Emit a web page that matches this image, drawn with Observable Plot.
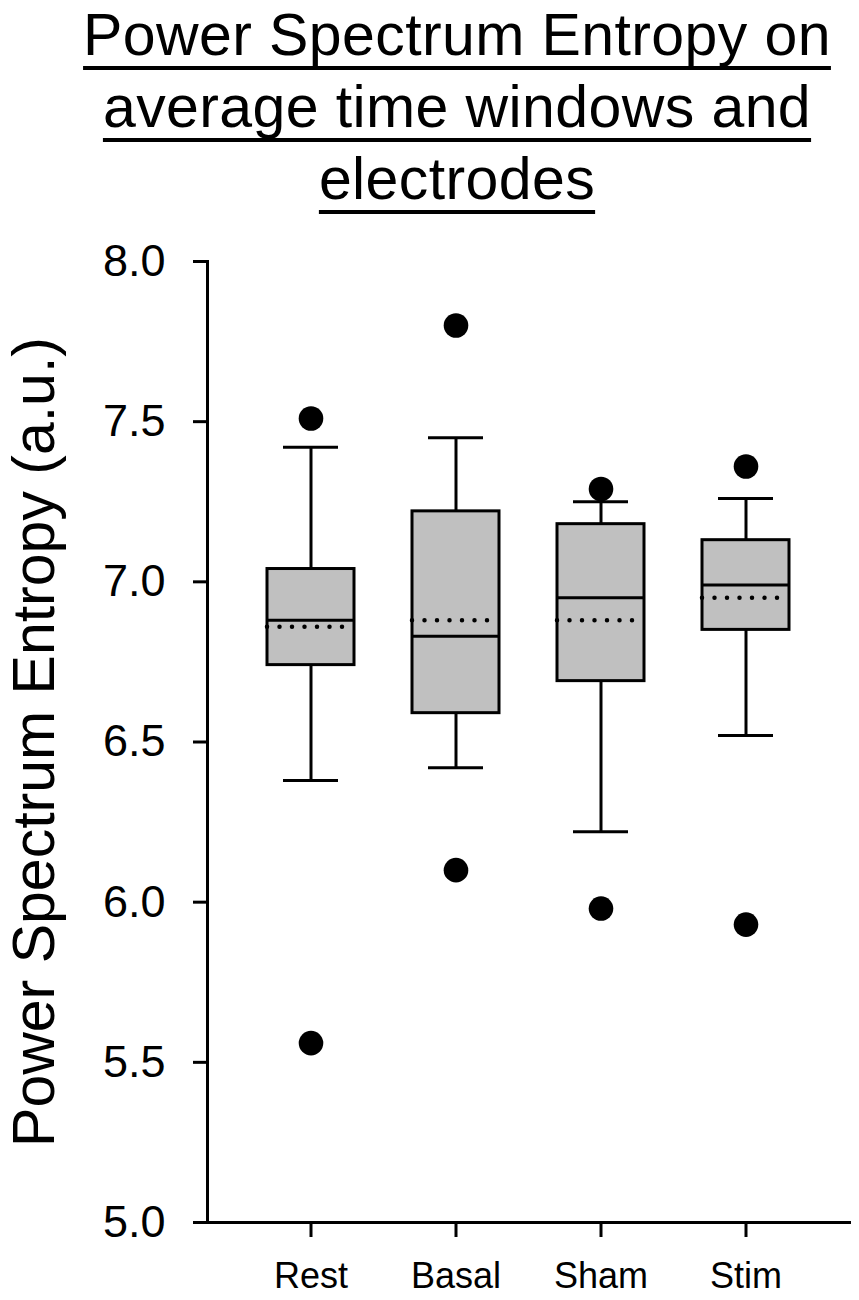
<!DOCTYPE html>
<html>
<head>
<meta charset="utf-8">
<script src="https://cdn.jsdelivr.net/npm/d3@7"></script>
<script src="https://cdn.jsdelivr.net/npm/@observablehq/plot@0.6"></script>
<style>
  html, body { margin: 0; padding: 0; background: #fff; }
  body { width: 859px; font-family: "Liberation Sans", Arial, sans-serif; }
  #title {
    box-sizing: border-box;
    width: 859px; height: 230px;
    padding-left: 55px; padding-top: 0; margin-top: -1px;
    text-align: center; font-size: 59px; line-height: 72px; color: #000;
    letter-spacing: 0.4px;
  }
  #title span {
    text-decoration: underline; text-decoration-thickness: 4px;
    text-underline-offset: 11px; text-decoration-skip-ink: none;
  }
  #chart svg { display: block; }
</style>
</head>
<body>
<div id="title"><span>Power Spectrum Entropy on</span><br><span>average time windows and</span><br><span>electrodes</span></div>
<div id="chart"></div>
<script>
const groups      = ["Rest", "Basal", "Sham", "Stim"];
const whiskerLow  = [6.38, 6.42, 6.22, 6.52];
const q1          = [6.74, 6.59, 6.69, 6.85];
const median      = [6.88, 6.83, 6.95, 6.99];
const q3          = [7.04, 7.22, 7.18, 7.13];
const whiskerHigh = [7.42, 7.45, 7.25, 7.26];
const mean        = [6.86, 6.88, 6.88, 6.95];
const outlierHigh = [7.51, 7.80, 7.29, 7.36];
const outlierLow  = [5.56, 6.10, 5.98, 5.93];
const yTicks      = [5.0, 5.5, 6.0, 6.5, 7.0, 7.5, 8.0];
const yLabel      = "Power Spectrum Entropy (a.u.)";

const boxes = groups.map((g, i) => ({
  group: g, lo: whiskerLow[i], q1: q1[i], median: median[i], q3: q3[i],
  hi: whiskerHigh[i], mean: mean[i]
}));
const outliers = groups.flatMap((g, i) => [
  {group: g, value: outlierHigh[i]},
  {group: g, value: outlierLow[i]}
]);

const sw = 3;
const plot = Plot.plot({
  width: 859,
  height: 1070,
  marginLeft: 207,
  marginRight: 10,
  marginTop: 32,
  marginBottom: 77,
  style: {fontFamily: '"Liberation Sans", Arial, sans-serif', color: "#000", background: "#fff", overflow: "visible"},
  x: {domain: groups, padding: 0.4, label: null},
  y: {domain: [5, 8], label: null},
  marks: [
    Plot.axisY({ticks: yTicks, tickFormat: d3.format(".1f"), tickSize: 14, tickPadding: 28, fontSize: 45, strokeWidth: sw, label: null}),
    Plot.axisX({tickSize: 15, tickPadding: 25, fontSize: 36, strokeWidth: sw, label: null}),
    Plot.frame({anchor: "left", strokeWidth: sw}),
    Plot.frame({anchor: "bottom", strokeWidth: sw}),
    Plot.ruleX(boxes, {x: "group", y1: "q3", y2: "hi", strokeWidth: sw}),
    Plot.ruleX(boxes, {x: "group", y1: "lo", y2: "q1", strokeWidth: sw}),
    Plot.tickY(boxes, {x: "group", y: "hi", insetLeft: 16, insetRight: 16, strokeWidth: sw}),
    Plot.tickY(boxes, {x: "group", y: "lo", insetLeft: 16, insetRight: 16, strokeWidth: sw}),
    Plot.barY(boxes, {x: "group", y1: "q1", y2: "q3", fill: "#c0c0c0", stroke: "#000", strokeWidth: sw}),
    Plot.tickY(boxes, {x: "group", y: "median", strokeWidth: sw}),
    Plot.tickY(boxes, {x: "group", y: "mean", strokeWidth: 4.5, strokeDasharray: "0,12.5", strokeLinecap: "round", insetRight: 6}),
    Plot.dot(outliers, {x: "group", y: "value", r: 12.3, fill: "#000", stroke: "none"}),
    Plot.text([yLabel], {frameAnchor: "left", textAnchor: "middle", rotate: -90, dx: -172, fontSize: 59, fill: "#000", text: d => d})
  ]
});
document.getElementById("chart").appendChild(plot);
</script>
</body>
</html>
